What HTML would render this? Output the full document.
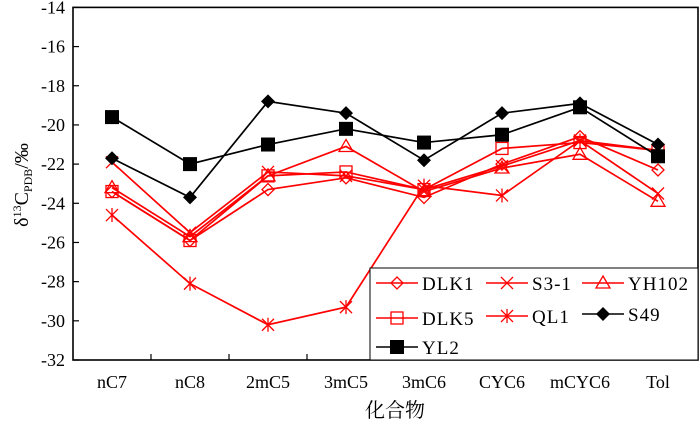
<!DOCTYPE html>
<html><head><meta charset="utf-8"><style>
body{margin:0;background:#fff}
svg text{font-family:"Liberation Serif","Noto Serif CJK SC",serif}
</style></head><body>
<svg id="c" width="700" height="424" xmlns="http://www.w3.org/2000/svg"></svg>
<script>
const categories=["nC7","nC8","2mC5","3mC5","3mC6","CYC6","mCYC6","Tol"];
const yTicks=[-14,-16,-18,-20,-22,-24,-26,-28,-30,-32];
const seriesNames=["DLK1","S3-1","YH102","DLK5","QL1","S49","YL2"];
const dlk1=[-23.4,-25.9,-23.3,-22.7,-23.7,-22.0,-20.6,-22.3];
const s31=[-21.9,-25.5,-22.4,-22.6,-23.3,-22.1,-20.8,-23.5];
const yh102=[-23.2,-25.7,-22.6,-21.1,-23.4,-22.2,-21.5,-23.9];
const dlk5=[-23.4,-25.9,-22.6,-22.4,-23.3,-21.2,-20.9,-21.3];
const ql1=[-24.6,-28.1,-30.2,-29.3,-23.1,-23.6,-20.8,-21.3];
const s49=[-21.7,-23.7,-18.8,-19.4,-21.8,-19.4,-18.9,-21.0];
const yl2=[-19.6,-22.0,-21.0,-20.2,-20.9,-20.5,-19.1,-21.6];
const NS="http://www.w3.org/2000/svg",svg=document.getElementById('c');
const L=73,R=698,T=7.4,B=360;
const x=i=>112+i*78;
const y=v=>T+(-14-v)*(B-T)/18;
function el(t,a,p){const e=document.createElementNS(NS,t);for(const k in a)e.setAttribute(k,a[k]);(p||svg).appendChild(e);return e;}
const ax=el('rect',{x:L,y:T,width:R-L,height:B-T,fill:'none',stroke:'#000','stroke-width':1.6});

yTicks.forEach(v=>{const t=el('line',{x1:L,x2:L+6,y1:y(v),y2:y(v),stroke:'#000','stroke-width':1.2});

const lb=el('text',{x:L-8,y:y(v)+6,'text-anchor':'end','font-size':18});lb.textContent=v;
});
categories.forEach((c,i)=>{if(i<categories.length-1){const t=el('line',{x1:x(i)+39,x2:x(i)+39,y1:B,y2:B-6,stroke:'#000','stroke-width':1.2});
}
const lb=el('text',{x:x(i),y:B+28,'text-anchor':'middle','font-size':18});lb.textContent=c;
});
const xt=el('text',{x:395,y:417,'text-anchor':'middle','font-size':20});xt.textContent='化合物';

const yt=el('text',{transform:'translate(28,185) rotate(-90)','text-anchor':'middle','font-size':20});
yt.innerHTML='δ<tspan dy="-7" font-size="12">13</tspan><tspan dy="7">C</tspan><tspan dy="4" font-size="12">PDB</tspan><tspan dy="-4">/‰</tspan>';

function marker(kind,cx,cy,col,g){
 if(kind==='diamond')el('polygon',{points:`${cx},${cy-6} ${cx+6},${cy} ${cx},${cy+6} ${cx-6},${cy}`,fill:'none',stroke:col,'stroke-width':1.3},g);
 else if(kind==='x'){el('path',{d:`M${cx-6},${cy-6}L${cx+6},${cy+6}M${cx-6},${cy+6}L${cx+6},${cy-6}`,stroke:col,'stroke-width':1.3},g);}
 else if(kind==='tri')el('polygon',{points:`${cx},${cy-7} ${cx+7},${cy+5} ${cx-7},${cy+5}`,fill:'none',stroke:col,'stroke-width':1.3},g);
 else if(kind==='sq')el('rect',{x:cx-6,y:cy-6,width:12,height:12,fill:'none',stroke:col,'stroke-width':1.3},g);
 else if(kind==='star')el('path',{d:`M${cx-6},${cy-6}L${cx+6},${cy+6}M${cx-6},${cy+6}L${cx+6},${cy-6}M${cx},${cy-7}L${cx},${cy+7}`,stroke:col,'stroke-width':1.3},g);
 else if(kind==='fdiamond')el('polygon',{points:`${cx},${cy-7} ${cx+7},${cy} ${cx},${cy+7} ${cx-7},${cy}`,fill:col},g);
 else if(kind==='fsq')el('rect',{x:cx-7,y:cy-7,width:14,height:14,fill:col},g);
}
const series=[[dlk1,'diamond','#f00'],[s31,'x','#f00'],[yh102,'tri','#f00'],[dlk5,'sq','#f00'],[ql1,'star','#f00'],[s49,'fdiamond','#000'],[yl2,'fsq','#000']];
series.forEach(([d,k,col],si)=>{const g=el('g',{});

el('polyline',{points:d.map((v,i)=>x(i)+','+y(v)).join(' '),fill:'none',stroke:col,'stroke-width':1.7},g);
d.forEach((v,i)=>marker(k,x(i),y(v),col,g));});
const lg=el('g',{});
el('rect',{x:370,y:268,width:328,height:92,fill:'#fff',stroke:'#000','stroke-width':1},lg);
const pos=[[376,283],[486,283],[582,283],[376,318],[486,316],[582,314],[376,347]];
series.forEach(([d,k,col],si)=>{const [px,py]=pos[si];const g=el('g',{},lg);

const w=42;
el('line',{x1:px,x2:px+w,y1:py,y2:py,stroke:col,'stroke-width':1.6},g);marker(k,px+w/2,py,col,g);
const t=el('text',{x:px+w+4,y:py+7,'font-size':19,'letter-spacing':1},g);t.textContent=seriesNames[si];});
</script>
</body></html>
